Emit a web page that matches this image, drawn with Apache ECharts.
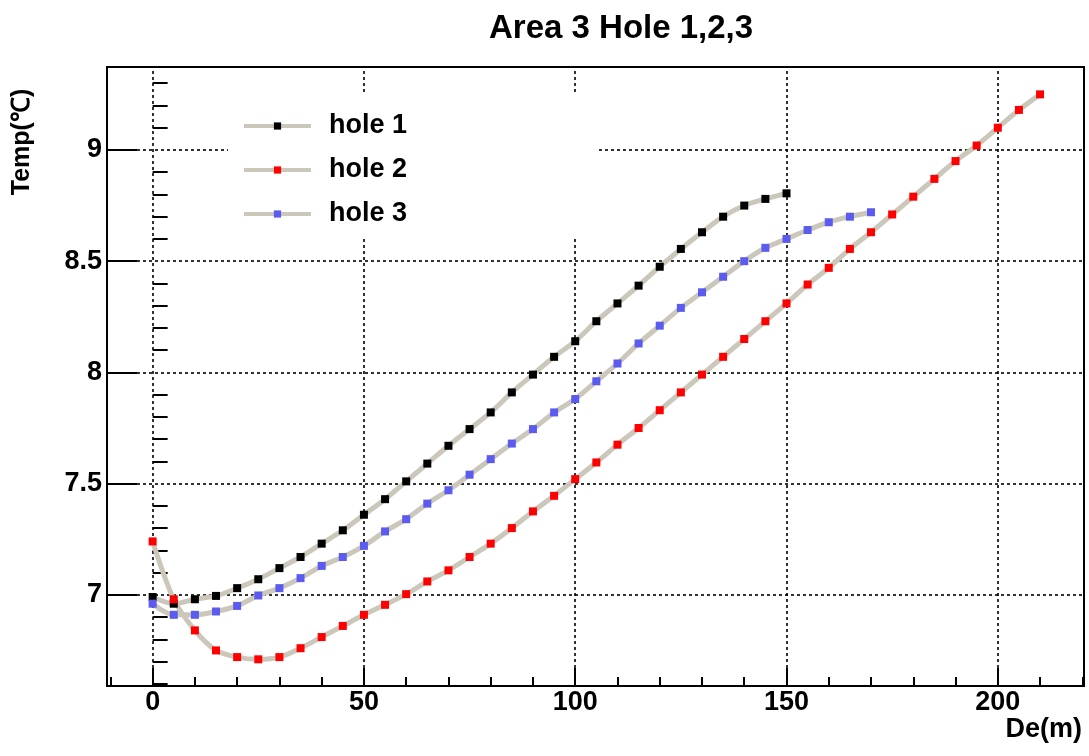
<!DOCTYPE html>
<html>
<head>
<meta charset="utf-8">
<script src="https://cdn.jsdelivr.net/npm/echarts@6/dist/echarts.min.js"></script>
<style>html,body{margin:0;padding:0;background:#fff;}#c{width:1089px;height:756px;}</style>
</head>
<body>
<div id="c"></div>
<script>
// ---- data ----
const depth1 = [0,5,10,15,20,25,30,35,40,45,50,55,60,65,70,75,80,85,90,95,100,105,110,115,120,125,130,135,140,145,150];
const temp1  = [6.99,6.96,6.98,6.995,7.03,7.07,7.12,7.17,7.23,7.29,7.36,7.43,7.51,7.59,7.67,7.745,7.82,7.91,7.99,8.07,8.14,8.23,8.31,8.39,8.475,8.555,8.63,8.70,8.75,8.78,8.805];
const depth2 = [0,5,10,15,20,25,30,35,40,45,50,55,60,65,70,75,80,85,90,95,100,105,110,115,120,125,130,135,140,145,150,155,160,165,170,175,180,185,190,195,200,205,210];
const temp2  = [7.24,6.98,6.84,6.75,6.72,6.71,6.72,6.76,6.81,6.86,6.91,6.955,7.003,7.06,7.11,7.17,7.23,7.30,7.375,7.445,7.52,7.595,7.675,7.75,7.83,7.91,7.99,8.07,8.15,8.23,8.31,8.395,8.47,8.555,8.63,8.71,8.79,8.87,8.95,9.02,9.10,9.18,9.25];
const depth3 = [0,5,10,15,20,25,30,35,40,45,50,55,60,65,70,75,80,85,90,95,100,105,110,115,120,125,130,135,140,145,150,155,160,165,170];
const temp3  = [6.96,6.91,6.91,6.925,6.95,6.997,7.03,7.075,7.13,7.17,7.22,7.285,7.34,7.41,7.47,7.54,7.61,7.68,7.745,7.82,7.88,7.96,8.04,8.13,8.21,8.29,8.36,8.43,8.50,8.56,8.60,8.64,8.675,8.70,8.72];
const seriesNames = ['hole 1','hole 2','hole 3'];
const xMajorTicks = [0,50,100,150,200];
const xMinorTicks = [-10,10,20,30,40,60,70,80,90,110,120,130,140,160,170,180,190,210,220];
const yMajorTicks = [7,7.5,8,8.5,9];
const yMinorTicks = [6.6,6.7,6.8,6.9,7.1,7.2,7.3,7.4,7.6,7.7,7.8,7.9,8.1,8.2,8.3,8.4,8.6,8.7,8.8,8.9,9.1,9.2,9.3];

// ---- styles ----
const FONT = '"Liberation Sans", Arial, Helvetica, sans-serif';
const lineColor = '#ccc7bb';
const markerColors = ['#000000','#ff0000','#5b5bef'];

function pairs(xs, ys){ return xs.map((x,i)=>[x, ys[i]]); }

const gridLines = xMajorTicks.map(v=>({xAxis:v})).concat(yMajorTicks.map(v=>({yAxis:v})));

function mkSeries(name, xs, ys, color, withGrid){
  const s = {
    name: name, type: 'line', data: pairs(xs, ys),
    xAxisIndex: 0, yAxisIndex: 0,
    smooth: 0.3, z: 3,
    symbol: 'rect', symbolSize: 8, showAllSymbol: true,
    lineStyle: {color: lineColor, width: 5},
    itemStyle: {color: color},
    emphasis: {disabled: true}
  };
  if (withGrid) {
    s.markLine = {
      silent: true, symbol: ['none','none'], z: 1, animation: false,
      label: {show: false},
      lineStyle: {color: '#000', type: [3,3], width: 1.6},
      emphasis: {disabled: true},
      data: gridLines
    };
  }
  return s;
}

const chart = echarts.init(document.getElementById('c'), null, {renderer: 'canvas'});
chart.setOption({
  animation: false,
  backgroundColor: '#fff',
  textStyle: {fontFamily: FONT},
  title: {
    text: 'Area 3 Hole 1,2,3', left: 484, top: 7,
    textStyle: {fontFamily: FONT, fontSize: 33, fontWeight: 'bold', color: '#000'}
  },
  grid: {left: 107, right: 5, top: 67, bottom: 70, show: true, borderColor: '#000', borderWidth: 2, backgroundColor: 'transparent'},
  legend: {
    data: seriesNames, orient: 'vertical', left: 228, top: 95,
    backgroundColor: '#fff', borderWidth: 0,
    padding: [16, 190, 9, 14],
    itemWidth: 67, itemHeight: 9, itemGap: 14,
    lineStyle: {width: 4, color: lineColor},
    textStyle: {fontFamily: FONT, fontSize: 27, fontWeight: 'bold', color: '#000', lineHeight: 30, padding: [0,0,0,13]}
  },
  xAxis: [{
    type: 'value', min: -10.8, max: 220.4, position: 'bottom',
    name: 'De(m)', nameLocation: 'end', nameGap: 0,
    nameTextStyle: {fontFamily: FONT, fontSize: 27, fontWeight: 'bold', color: '#000', align: 'right', verticalAlign: 'top', padding: [30, 2, 0, 0]},
    axisLine: {show: true, onZero: false, lineStyle: {color: '#000', width: 2}},
    axisTick: {show: true, inside: true, length: 18, customValues: xMajorTicks, lineStyle: {color: '#000', width: 2}},
    axisLabel: {show: true, customValues: xMajorTicks, margin: 3, fontFamily: FONT, fontSize: 27, fontWeight: 'bold', color: '#000'},
    splitLine: {show: false}
  }, {
    type: 'value', min: -10.8, max: 220.4, position: 'bottom', offset: 0,
    axisLine: {show: false},
    axisTick: {show: true, inside: true, length: 9, customValues: xMinorTicks, lineStyle: {color: '#000', width: 2}},
    axisLabel: {show: false},
    splitLine: {show: false}
  }],
  yAxis: [{
    type: 'value', min: 6.59, max: 9.373, position: 'left',
    name: 'Temp(\u2103)', nameLocation: 'end', nameGap: -75, nameRotate: 90,
    nameTextStyle: {fontFamily: FONT, fontSize: 25, fontWeight: 'bold', color: '#000', align: 'center', verticalAlign: 'bottom', padding: [0, 0, 72, 0]},
    axisLine: {show: true, onZero: false, lineStyle: {color: '#000', width: 2}},
    axisTick: {show: true, inside: true, length: 30, customValues: yMajorTicks, lineStyle: {color: '#000', width: 2}},
    axisLabel: {show: true, customValues: yMajorTicks, margin: 5, fontFamily: FONT, fontSize: 27, fontWeight: 'bold', color: '#000'},
    splitLine: {show: false}
  }, {
    type: 'value', min: 6.59, max: 9.373, position: 'left', offset: 0,
    axisLine: {show: false},
    axisTick: {show: true, inside: true, length: 15, customValues: yMinorTicks, lineStyle: {color: '#000', width: 2}},
    axisLabel: {show: false},
    splitLine: {show: false}
  }],
  series: [
    mkSeries(seriesNames[0], depth1, temp1, markerColors[0], true),
    mkSeries(seriesNames[1], depth2, temp2, markerColors[1], false),
    mkSeries(seriesNames[2], depth3, temp3, markerColors[2], false)
  ]
});
</script>
</body>
</html>
